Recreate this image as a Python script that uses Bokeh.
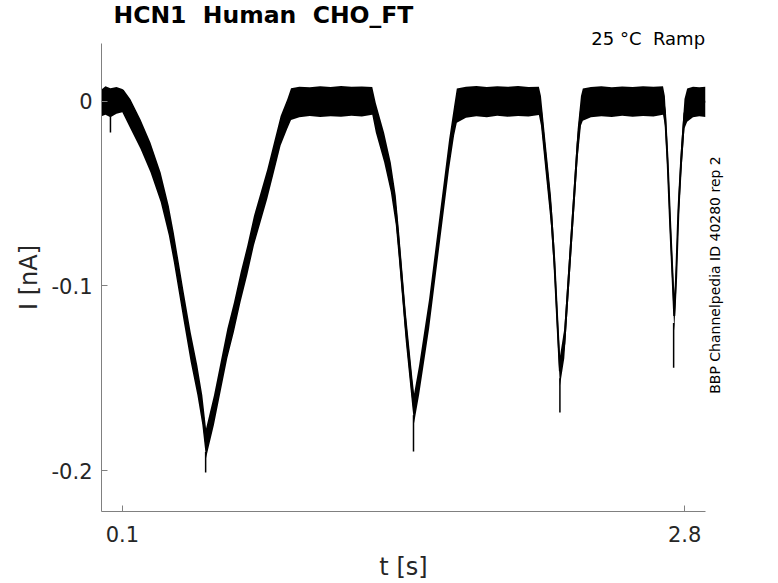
import math
from bokeh.plotting import figure
from bokeh.models import (Range1d, FixedTicker, NumeralTickFormatter, CustomJSTickFormatter,
                          LinearAxis, ColumnDataSource)
from bokeh.embed import file_html
from bokeh.resources import INLINE

t_s = [0.000, 0.019, 0.043, 0.072, 0.100,
       0.107, 0.139, 0.187, 0.235, 0.284, 0.323, 0.347, 0.371, 0.395, 0.428, 0.460, 0.484, 0.502,
       0.540, 0.572, 0.604, 0.636, 0.668, 0.700, 0.732, 0.764, 0.796, 0.828, 0.860, 0.892, 0.910,
       0.950, 1.000, 1.050, 1.100, 1.150, 1.200, 1.250, 1.300,
       1.317, 1.357, 1.389, 1.413, 1.429, 1.445, 1.461, 1.477, 1.493, 1.501,
       1.525, 1.549, 1.573, 1.597, 1.621, 1.645, 1.669, 1.693, 1.706,
       1.750, 1.800, 1.850, 1.900, 1.950, 2.000, 2.050, 2.100,
       2.110, 2.134, 2.158, 2.174, 2.190, 2.201,
       2.222, 2.238, 2.254, 2.270, 2.286, 2.302, 2.311,
       2.350, 2.400, 2.450, 2.500, 2.550, 2.600, 2.650, 2.696,
       2.705, 2.718, 2.731, 2.742, 2.750,
       2.759, 2.770, 2.783, 2.799, 2.812,
       2.840, 2.870, 2.900]

i_hi = [0.0065, 0.0082, 0.0072, 0.0078, 0.0068,
        0.0062, 0.0012, -0.0097, -0.0223, -0.0385, -0.0565, -0.0710, -0.0872, -0.1034, -0.1250, -0.1430, -0.1592, -0.1772,
        -0.1592, -0.1412, -0.1232, -0.1088, -0.0926, -0.0781, -0.0619, -0.0493, -0.0367, -0.0223, -0.0079, 0.0012, 0.0072,
        0.0080, 0.0077, 0.0082, 0.0078, 0.0084, 0.0079, 0.0081, 0.0078,
        -0.0008, -0.0169, -0.0331, -0.0511, -0.0710, -0.0926, -0.1142, -0.1322, -0.1502, -0.1582,
        -0.1430, -0.1250, -0.1070, -0.0853, -0.0637, -0.0421, -0.0205, -0.0025, 0.0070,
        0.0080, 0.0084, 0.0078, 0.0082, 0.0079, 0.0084, 0.0078, 0.0080,
        0.0029, -0.0241, -0.0511, -0.0781, -0.1142, -0.1382,
        -0.1232, -0.0962, -0.0691, -0.0421, -0.0151, 0.0029, 0.0070,
        0.0078, 0.0082, 0.0077, 0.0081, 0.0078, 0.0083, 0.0079, 0.0082,
        0.0029, -0.0241, -0.0601, -0.0872, -0.1082,
        -0.0872, -0.0511, -0.0241, 0.0013, 0.0070,
        0.0080, 0.0077, 0.0080]

i_lo = [-0.0080, -0.0072, -0.0086, -0.0066, -0.0058,
        -0.0075, -0.0148, -0.0257, -0.0383, -0.0545, -0.0725, -0.0870, -0.1032, -0.1194, -0.1410, -0.1590, -0.1752, -0.1932,
        -0.1752, -0.1572, -0.1392, -0.1248, -0.1086, -0.0941, -0.0779, -0.0653, -0.0527, -0.0383, -0.0239, -0.0148, -0.0100,
        -0.0086, -0.0079, -0.0084, -0.0080, -0.0083, -0.0078, -0.0081, -0.0072,
        -0.0168, -0.0329, -0.0491, -0.0671, -0.0870, -0.1086, -0.1302, -0.1482, -0.1662, -0.1742,
        -0.1590, -0.1410, -0.1230, -0.1013, -0.0797, -0.0581, -0.0365, -0.0185, -0.0115,
        -0.0088, -0.0080, -0.0085, -0.0078, -0.0083, -0.0079, -0.0082, -0.0074,
        -0.0131, -0.0401, -0.0671, -0.0941, -0.1302, -0.1542,
        -0.1392, -0.1122, -0.0851, -0.0581, -0.0311, -0.0131, -0.0105,
        -0.0086, -0.0080, -0.0084, -0.0078, -0.0083, -0.0079, -0.0082, -0.0072,
        -0.0131, -0.0401, -0.0761, -0.1032, -0.1242,
        -0.1032, -0.0671, -0.0401, -0.0147, -0.0110,
        -0.0086, -0.0080, -0.0084]

# thin downward spikes at the tips of the ramps
spike_t = [0.043, 0.500, 1.498, 2.201, 2.747]
spike_from = [-0.0080, -0.1900, -0.1700, -0.1500, -0.1200]
spike_to = [-0.0168, -0.2010, -0.1897, -0.1686, -0.1443]

x_ticks = [0.1, 2.8]
y_ticks = [-0.2, -0.1, 0.0]

# double gaps kept visible with a no-break space (svg folds plain runs of spaces)
title_text = "HCN1\u00a0 Human\u00a0 CHO_FT"
cond_text = "25 °C\u00a0 Ramp"
id_text = "BBP Channelpedia ID 40280 rep 2"

FONT = "DejaVu Sans"
TXT = "#262626"
AX = "#808080"

p = figure(width=778, height=583, x_range=Range1d(0, 2.9), y_range=Range1d(-0.2222, 0.0314),
           output_backend="svg", toolbar_location=None, title=title_text,
           min_border_left=101, min_border_right=73, min_border_top=43, min_border_bottom=71)
p.grid.visible = False
p.outline_line_color = None
p.background_fill_color = "white"
p.border_fill_color = "white"

p.title.text_font = FONT
p.title.text_font_size = "23.5px"
p.title.text_font_style = "bold"
p.title.text_color = "black"
p.title.align = "left"
p.title.offset = 12
p.title.standoff = -9

src = ColumnDataSource(dict(t=t_s, hi=i_hi, lo=i_lo,
                            mid=[(a + b) / 2 for a, b in zip(i_hi, i_lo)]))
p.varea(x="t", y1="lo", y2="hi", source=src, fill_color="black")
p.line(x="t", y="mid", source=src, line_color="black", line_width=2)
p.segment(x0=spike_t, y0=spike_from, x1=spike_t, y1=spike_to, line_color="black", line_width=1.5)

for ax in (p.xaxis[0], p.yaxis[0]):
    ax.axis_line_color = AX
    ax.major_tick_line_color = AX
    ax.minor_tick_line_color = None
    ax.major_tick_in = 6
    ax.major_tick_out = 0
    ax.major_label_text_font = FONT
    ax.major_label_text_font_size = "21px"
    ax.major_label_text_color = TXT
    ax.formatter = NumeralTickFormatter(format="0.[0]")
    ax.axis_label_text_font = FONT
    ax.axis_label_text_font_size = "24px"
    ax.axis_label_text_font_style = "normal"
    ax.axis_label_text_color = TXT

p.xaxis.ticker = FixedTicker(ticks=x_ticks)
p.yaxis.ticker = FixedTicker(ticks=y_ticks)
p.xaxis.major_label_standoff = 14
p.yaxis.major_label_standoff = 9
p.xaxis.axis_label = "t [s]"
p.xaxis.axis_label_standoff = 8
p.yaxis.axis_label = "I [nA]"
p.yaxis.axis_label_standoff = 6

# condition text at the top right, as the single label of a bare axis above the plot
top = LinearAxis(ticker=FixedTicker(ticks=[2.625]),
                 formatter=CustomJSTickFormatter(code="return '%s'" % cond_text),
                 axis_line_color=None, major_tick_line_color=None, minor_tick_line_color=None,
                 major_tick_in=0, major_tick_out=0, major_label_standoff=-5,
                 major_label_text_font=FONT, major_label_text_font_size="18px",
                 major_label_text_color="black")
p.add_layout(top, "above")

# record id, vertical at the right (label starts at its tick)
side = LinearAxis(ticker=FixedTicker(ticks=[-0.1584]),
                  formatter=CustomJSTickFormatter(code="return '%s'" % id_text),
                  axis_line_color=None, major_tick_line_color=None, minor_tick_line_color=None,
                  major_tick_in=0, major_tick_out=0, major_label_standoff=10,
                  major_label_orientation=math.pi / 2,
                  major_label_text_font=FONT, major_label_text_font_size="14px",
                  major_label_text_color="black")
p.add_layout(side, "right")

open("out.html", "w").write(file_html(p, INLINE))
